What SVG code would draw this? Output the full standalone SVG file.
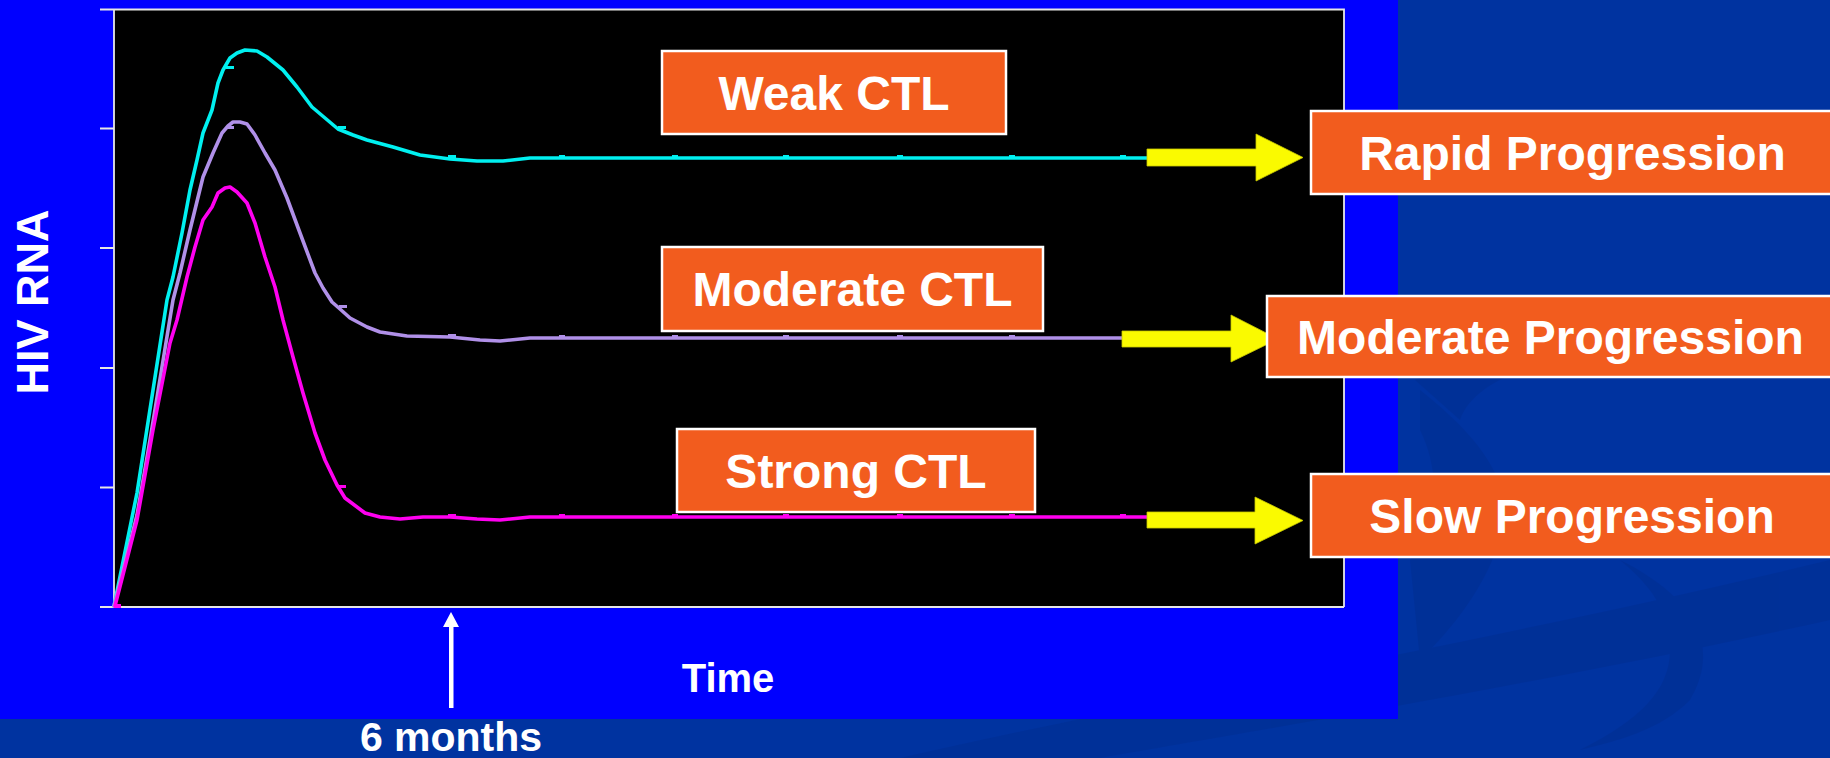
<svg xmlns="http://www.w3.org/2000/svg" width="1830" height="758" viewBox="0 0 1830 758">
  <style>
    .lbl { font-family: "Liberation Sans", Arial, sans-serif; font-weight: bold; fill: #ffffff; }
    .box { fill: #F25C1E; stroke: #ffffff; stroke-width: 2.5; }
    .axis { stroke: #E6E6E6; stroke-width: 1.8; fill: none; }
    .curve { fill: none; stroke-width: 3.6; stroke-linejoin: round; stroke-linecap: round; }
    .yarrow { fill: #FAFA00; stroke: #C8C800; stroke-width: 0.8; }
  </style>
  <!-- backgrounds -->
  <rect x="0" y="0" width="1830" height="758" fill="#0033A0"/>
  <g fill="#002D8C" opacity="0.4">
    <path d="M900,758 C1200,690 1500,640 1830,560 L1830,620 C1560,680 1260,730 1100,758 Z"/>
    <path d="M1420,390 C1470,430 1520,480 1500,540 C1480,600 1440,640 1420,660 L1410,560 C1440,520 1440,470 1420,430 Z"/>
    <path d="M1620,560 C1700,600 1720,650 1690,700 C1660,730 1620,740 1580,750 C1640,720 1670,690 1670,650 C1670,610 1650,585 1620,560 Z"/>
    <path d="M1415,380 C1460,360 1520,355 1560,360 C1510,370 1470,390 1460,420 Z"/>
  </g>
  <rect x="0" y="0" width="1398" height="719" fill="#0000FF"/>

  <!-- chart -->
  <g id="chart">
    <rect x="114" y="9.5" width="1230" height="597.5" fill="#000000"/>
    <path class="axis" d="M114,9.5 H1344 V607 M100,607 H1344 M114,9.5 V607"/>
    <path class="axis" d="M100,9.5 H114 M100,128.5 H114 M100,248 H114 M100,368 H114 M100,487.5 H114"/>
    <polyline class="curve" stroke="#00F0F0" points="114,606 137,493 167,300 173,277 182,233 190,190 197,160 203,133 212,110 218,83 223,70 230,58 237,53 245,50 257,51 267,57 283,70 297,87 312,107 325,118 338,129 353,135 367,140 393,147 420,155 450,159 477,161 503,161 530,158 1147,158"/>
    <polyline class="curve" stroke="#B090E8" points="114,606 137,515 150,440 173,300 180,273 190,230 203,177 213,153 222,133 228,126 233,122 240,122 247,124 255,135 265,153 275,170 287,198 300,233 315,273 323,288 332,302 340,309 350,318 367,327 380,332 407,336 450,337 480,340 500,341 530,338 1122,338"/>
    <polyline class="curve" stroke="#FF00F0" points="115,606 137,520 153,430 170,343 177,320 187,277 195,247 203,220 212,207 218,193 225,188 230,187 237,192 247,203 255,223 265,257 275,287 283,320 293,357 303,393 315,433 325,460 337,485 345,498 365,513 380,517 400,519 423,517 450,517 477,519 500,520 530,517 1147,517"/>
    <g fill="#00F0F0">
      <rect x="226" y="66" width="8" height="3"/><rect x="338" y="126" width="8" height="3"/>
      <rect x="448" y="155" width="8" height="3"/><rect x="559" y="155" width="6" height="3"/>
      <rect x="672" y="155" width="6" height="3"/><rect x="783" y="155" width="6" height="3"/>
      <rect x="897" y="155" width="6" height="3"/><rect x="1009" y="155" width="6" height="3"/>
      <rect x="1120" y="155" width="6" height="3"/>
    </g>
    <g fill="#B090E8">
      <rect x="226" y="126" width="8" height="3"/><rect x="339" y="305" width="8" height="3"/>
      <rect x="448" y="334" width="8" height="3"/><rect x="559" y="335" width="6" height="3"/>
      <rect x="672" y="335" width="6" height="3"/><rect x="783" y="335" width="6" height="3"/>
      <rect x="897" y="335" width="6" height="3"/><rect x="1009" y="335" width="6" height="3"/>
    </g>
    <g fill="#FF00F0">
      <rect x="114" y="604" width="7" height="4"/><rect x="338" y="485" width="8" height="3"/>
      <rect x="448" y="514" width="8" height="3"/><rect x="559" y="514" width="6" height="3"/>
      <rect x="672" y="514" width="6" height="3"/><rect x="783" y="514" width="6" height="3"/>
      <rect x="897" y="514" width="6" height="3"/><rect x="1009" y="514" width="6" height="3"/>
      <rect x="1120" y="514" width="6" height="3"/>
    </g>
  </g>

  <!-- axis labels -->
  <g id="y-label">
    <text class="lbl" font-size="45" text-anchor="middle" transform="translate(48,302) rotate(-90)">HIV RNA</text>
  </g>
  <g id="x-label">
    <text class="lbl" font-size="40" x="728" y="692" text-anchor="middle">Time</text>
  </g>
  <g id="six-months">
    <text class="lbl" font-size="41" x="451" y="751" text-anchor="middle">6 months</text>
  </g>

  <!-- connectors -->
  <g id="connectors">
    <polygon class="yarrow" points="1147,149 1256,149 1256,134 1303,157.5 1256,181 1256,166 1147,166"/>
    <polygon class="yarrow" points="1122,331 1231,331 1231,315 1278,339 1231,362 1231,347 1122,347"/>
    <polygon class="yarrow" points="1147,512 1255,512 1255,497 1303,520.5 1255,544 1255,528 1147,528"/>
    <g fill="#ffffff">
      <rect x="449" y="625" width="4.5" height="83"/>
      <polygon points="443,627 451,612 459,627"/>
    </g>
  </g>

  <!-- nodes -->
  <g id="weak-ctl">
    <rect class="box" x="662" y="51" width="344" height="83"/>
    <text class="lbl" font-size="48" x="834" y="110" text-anchor="middle">Weak CTL</text>
  </g>
  <g id="moderate-ctl">
    <rect class="box" x="662" y="247" width="381" height="84"/>
    <text class="lbl" font-size="48" x="852.5" y="306" text-anchor="middle">Moderate CTL</text>
  </g>
  <g id="strong-ctl">
    <rect class="box" x="677" y="429" width="358" height="83"/>
    <text class="lbl" font-size="48" x="856" y="488" text-anchor="middle">Strong CTL</text>
  </g>
  <g id="rapid-progression">
    <rect class="box" x="1311" y="111" width="525" height="83"/>
    <text class="lbl" font-size="48" x="1572.5" y="170" text-anchor="middle">Rapid Progression</text>
  </g>
  <g id="moderate-progression">
    <rect class="box" x="1267" y="296" width="569" height="81"/>
    <text class="lbl" font-size="48" x="1550.5" y="354" text-anchor="middle">Moderate Progression</text>
  </g>
  <g id="slow-progression">
    <rect class="box" x="1311" y="474" width="525" height="83"/>
    <text class="lbl" font-size="48" x="1572" y="533" text-anchor="middle">Slow Progression</text>
  </g>
</svg>
